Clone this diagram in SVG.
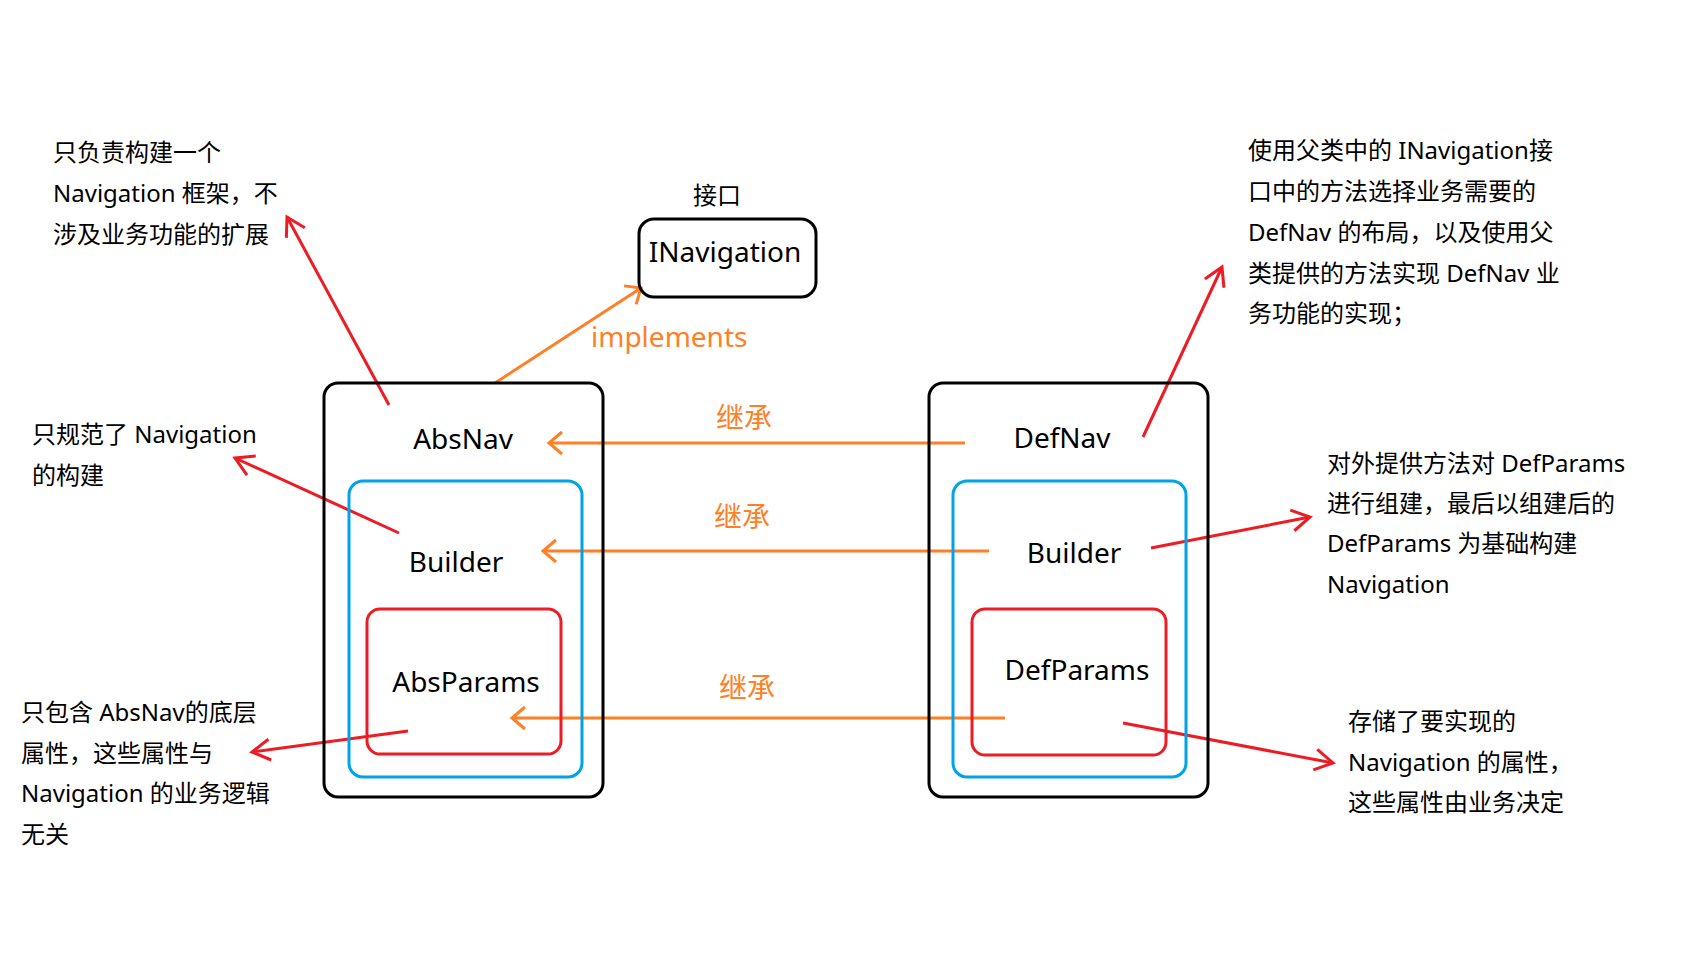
<svg xmlns="http://www.w3.org/2000/svg" width="1700" height="955" viewBox="0 0 1700 955">
<style>
  text { font-family: "Noto Sans", "Noto Sans CJK SC", sans-serif; fill: #000; }
  .note { font-size: 24px; }
  .lbl { font-size: 28px; text-anchor: middle; }
  .olbl { font-size: 28px; fill: #FF7F27; }
  .outer { fill: none; stroke: #000; stroke-width: 3; }
  .blue { fill: none; stroke: #00A2E8; stroke-width: 3; }
  .red { fill: none; stroke: #ED1C24; stroke-width: 3; }
  .oline { fill: none; stroke: #FF7F27; stroke-width: 3; marker-end: url(#ohead); }
  .rline { fill: none; stroke: #ED1C24; stroke-width: 3; marker-end: url(#rhead); }
</style>
<defs>
  <marker id="ohead" markerUnits="userSpaceOnUse" viewBox="-16 -14 20 28" markerWidth="20" markerHeight="28" refX="0" refY="0" orient="auto" style="overflow:visible">
    <path d="M-13,-11 L0,0 L-13,11" fill="none" stroke="#FF7F27" stroke-width="3"/>
  </marker>
  <marker id="rhead" markerUnits="userSpaceOnUse" viewBox="-20 -13 24 26" markerWidth="24" markerHeight="26" refX="0" refY="0" orient="auto" style="overflow:visible">
    <path d="M-18,-10.5 L0,0 L-18,10.5" fill="none" stroke="#ED1C24" stroke-width="3"/>
  </marker>
</defs>
<rect x="0" y="0" width="1700" height="955" fill="#fff"/>

<g id="connectors">
  <line class="oline" x1="495" y1="383" x2="641" y2="288"/>
  <line class="oline" x1="965" y1="443" x2="549" y2="443"/>
  <line class="oline" x1="989" y1="551" x2="543" y2="551"/>
  <line class="oline" x1="1005" y1="718" x2="512" y2="718"/>
  <line class="rline" x1="389" y1="405" x2="287" y2="217"/>
  <line class="rline" x1="399" y1="533" x2="235" y2="458"/>
  <line class="rline" x1="408" y1="731" x2="252" y2="752"/>
  <line class="rline" x1="1143" y1="437" x2="1222" y2="267"/>
  <line class="rline" x1="1151" y1="548" x2="1310" y2="517"/>
  <line class="rline" x1="1123" y1="723" x2="1333" y2="763"/>
  <text class="olbl" x="591" y="347">implements</text>
  <text class="olbl" x="716" y="428">继承</text>
  <text class="olbl" x="714" y="527">继承</text>
  <text class="olbl" x="719" y="698">继承</text>
</g>

<g id="inavigation">
  <text class="note" x="693" y="204">接口</text>
  <rect class="outer" x="639" y="219" width="177" height="78" rx="15"/>
  <text class="lbl" x="725" y="262">INavigation</text>
</g>

<g id="absnav">
  <rect class="outer" x="324" y="383" width="279" height="414" rx="14"/>
  <text class="lbl" x="463" y="449">AbsNav</text>
</g>
<g id="absnav-builder">
  <rect class="blue" x="349" y="481" width="233" height="296" rx="14"/>
  <text class="lbl" x="456" y="572">Builder</text>
</g>
<g id="absparams">
  <rect class="red" x="367" y="609" width="194" height="145" rx="13"/>
  <text class="lbl" x="466" y="692">AbsParams</text>
</g>

<g id="defnav">
  <rect class="outer" x="929" y="383" width="279" height="414" rx="14"/>
  <text class="lbl" x="1062" y="448">DefNav</text>
</g>
<g id="defnav-builder">
  <rect class="blue" x="953" y="481" width="233" height="296" rx="14"/>
  <text class="lbl" x="1074" y="563">Builder</text>
</g>
<g id="defparams">
  <rect class="red" x="972" y="609" width="194" height="146" rx="13"/>
  <text class="lbl" x="1077" y="680">DefParams</text>
</g>

<g id="note-absnav">
  <text class="note" x="53" y="161">只负责构建一个</text>
  <text class="note" x="53" y="202">Navigation 框架，不</text>
  <text class="note" x="53" y="243">涉及业务功能的扩展</text>
</g>
<g id="note-absbuilder">
  <text class="note" x="32" y="443">只规范了 Navigation</text>
  <text class="note" x="32" y="484">的构建</text>
</g>
<g id="note-absparams">
  <text class="note" x="21" y="721">只包含 AbsNav的底层</text>
  <text class="note" x="21" y="762">属性，这些属性与</text>
  <text class="note" x="21" y="802">Navigation 的业务逻辑</text>
  <text class="note" x="21" y="843">无关</text>
</g>
<g id="note-defnav">
  <text class="note" x="1248" y="159">使用父类中的 INavigation接</text>
  <text class="note" x="1248" y="200">口中的方法选择业务需要的</text>
  <text class="note" x="1248" y="241">DefNav 的布局，以及使用父</text>
  <text class="note" x="1248" y="282">类提供的方法实现 DefNav 业</text>
  <text class="note" x="1248" y="322">务功能的实现；</text>
</g>
<g id="note-defbuilder">
  <text class="note" x="1327" y="472">对外提供方法对 DefParams</text>
  <text class="note" x="1327" y="512">进行组建，最后以组建后的</text>
  <text class="note" x="1327" y="552">DefParams 为基础构建</text>
  <text class="note" x="1327" y="593">Navigation</text>
</g>
<g id="note-defparams">
  <text class="note" x="1348" y="730">存储了要实现的</text>
  <text class="note" x="1348" y="771">Navigation 的属性，</text>
  <text class="note" x="1348" y="811">这些属性由业务决定</text>
</g>
</svg>
